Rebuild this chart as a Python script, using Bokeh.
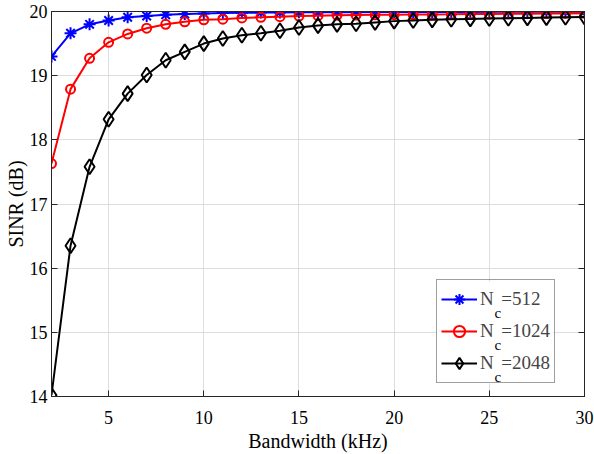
from bokeh.plotting import figure
from bokeh.models import (LinearAxis, Legend, LegendItem, Label, FixedTicker, Range1d,
                          CustomLabelingPolicy, BoxAnnotation)
from bokeh.embed import file_html
from bokeh.resources import INLINE

bandwidth = list(range(2, 31))
sinr_512 = [19.30, 19.66, 19.80, 19.86, 19.91, 19.93, 19.95, 19.96, 19.97, 19.975,
            19.98, 19.983, 19.985, 19.987, 19.988, 19.99, 19.99, 19.991, 19.992, 19.993,
            19.993, 19.994, 19.994, 19.995, 19.995, 19.996, 19.996, 19.997, 19.997]
sinr_1024 = [17.63, 18.79, 19.27, 19.52, 19.65, 19.74, 19.80, 19.84, 19.87, 19.88,
             19.90, 19.91, 19.92, 19.93, 19.935, 19.94, 19.945, 19.948, 19.95, 19.953,
             19.955, 19.957, 19.96, 19.962, 19.964, 19.966, 19.968, 19.97, 19.972]
sinr_2048 = [14.02, 16.35, 17.58, 18.32, 18.72, 19.01, 19.24, 19.37, 19.50, 19.58,
             19.63, 19.66, 19.70, 19.75, 19.78, 19.80, 19.81, 19.83, 19.85, 19.86,
             19.87, 19.88, 19.885, 19.89, 19.895, 19.90, 19.905, 19.91, 19.915]
nc_values = ["512", "1024", "2048"]
x_ticks = [5, 10, 15, 20, 25, 30]
y_ticks = [14, 15, 16, 17, 18, 19, 20]

FONT = "Liberation Serif"
AX = "#262626"

p = figure(width=594, height=454, output_backend="svg", toolbar_location=None,
           x_range=Range1d(2, 30), y_range=Range1d(14, 20),
           min_border_top=11, min_border_right=10, min_border_left=51, min_border_bottom=55)
p.background_fill_color = "white"
p.outline_line_color = AX

for ax in (p.xaxis[0], p.yaxis[0]):
    ax.major_tick_in = 6
    ax.major_tick_out = 0
    ax.minor_tick_line_color = None
    ax.axis_line_color = AX
    ax.major_tick_line_color = AX
    ax.major_label_text_font = FONT
    ax.major_label_text_font_size = "18px"
    ax.major_label_text_color = "black"
    ax.major_label_text_line_height = 0.9
    ax.axis_label_text_font = FONT
    ax.axis_label_text_font_size = "20px"
    ax.axis_label_text_font_style = "normal"
    ax.axis_label_text_color = "black"
    ax.axis_label_text_line_height = 0.9

p.xaxis.ticker = FixedTicker(ticks=x_ticks)
p.yaxis.ticker = FixedTicker(ticks=y_ticks)
p.xaxis.axis_label = "Bandwidth (kHz)"
p.yaxis.axis_label = "SINR (dB)"
p.xaxis.major_label_standoff = 14
p.yaxis.major_label_standoff = 4
p.xaxis.axis_label_standoff = 3
p.yaxis.axis_label_standoff = 0

p.xgrid.ticker = FixedTicker(ticks=x_ticks)
p.ygrid.ticker = FixedTicker(ticks=y_ticks)
p.grid.grid_line_color = "#dedede"
p.grid.grid_line_width = 1

no_labels = "for (const i of indices) indices.unset(i); return indices"
top = LinearAxis(ticker=FixedTicker(ticks=x_ticks),
                 major_label_policy=CustomLabelingPolicy(code=no_labels),
                 major_label_text_font_size="1px",
                 major_tick_in=6, major_tick_out=0, minor_tick_line_color=None,
                 axis_line_color=AX, major_tick_line_color=AX, major_label_standoff=0)
right = LinearAxis(ticker=FixedTicker(ticks=y_ticks),
                   major_label_policy=CustomLabelingPolicy(code=no_labels),
                   major_label_text_font_size="1px",
                   major_tick_in=6, major_tick_out=0, minor_tick_line_color=None,
                   axis_line_color=AX, major_tick_line_color=AX, major_label_standoff=0)
p.add_layout(top, "above")
p.add_layout(right, "right")

l1 = p.line(bandwidth, sinr_512, line_color="blue", line_width=2)
m1 = p.scatter(bandwidth, sinr_512, marker="asterisk", size=12, line_color="blue", line_width=2)
l2 = p.line(bandwidth, sinr_1024, line_color="red", line_width=2)
m2 = p.scatter(bandwidth, sinr_1024, marker="circle", size=9, line_color="red",
               fill_color=None, line_width=2)
l3 = p.line(bandwidth, sinr_2048, line_color="black", line_width=2)
m3 = p.scatter(bandwidth, sinr_2048, marker="diamond", size=15, line_color="black",
               fill_color=None, line_width=2)

LX, LY = 385, 13
PAD, ROW, SP = 4, 30, 2
LH = 2 * PAD + 3 * ROW + 2 * SP
LW = 117

# white backing for the legend, so the subscripts can sit on top of it
p.add_layout(BoxAnnotation(left=LX, right=LX + LW, bottom=LY, top=LY + LH,
                           left_units="screen", right_units="screen",
                           bottom_units="screen", top_units="screen",
                           fill_color="white", fill_alpha=1.0, line_color=None))

for i in range(3):
    p.add_layout(Label(x=LX + 58, y=LY + LH - 31 - (ROW + SP) * i, x_units="screen",
                       y_units="screen", text="c", text_font=FONT, text_font_size="15px",
                       text_baseline="alphabetic", text_align="left", text_color="black"))

GAP = "\u2009\u2009"
legend = Legend(items=[
    LegendItem(label="N" + GAP + "=" + nc_values[0], renderers=[l1, m1]),
    LegendItem(label="N" + GAP + "=" + nc_values[1], renderers=[l2, m2]),
    LegendItem(label="N" + GAP + "=" + nc_values[2], renderers=[l3, m3]),
], location=(LX, LY), margin=0, padding=PAD, spacing=SP, label_height=ROW, glyph_width=36,
    glyph_height=28, label_standoff=3, label_width=20, label_text_font=FONT,
    label_text_font_size="19px", border_line_color="#404040", border_line_width=1,
    background_fill_alpha=0.0)
p.add_layout(legend)

open("out.html", "w").write(file_html(p, INLINE))
